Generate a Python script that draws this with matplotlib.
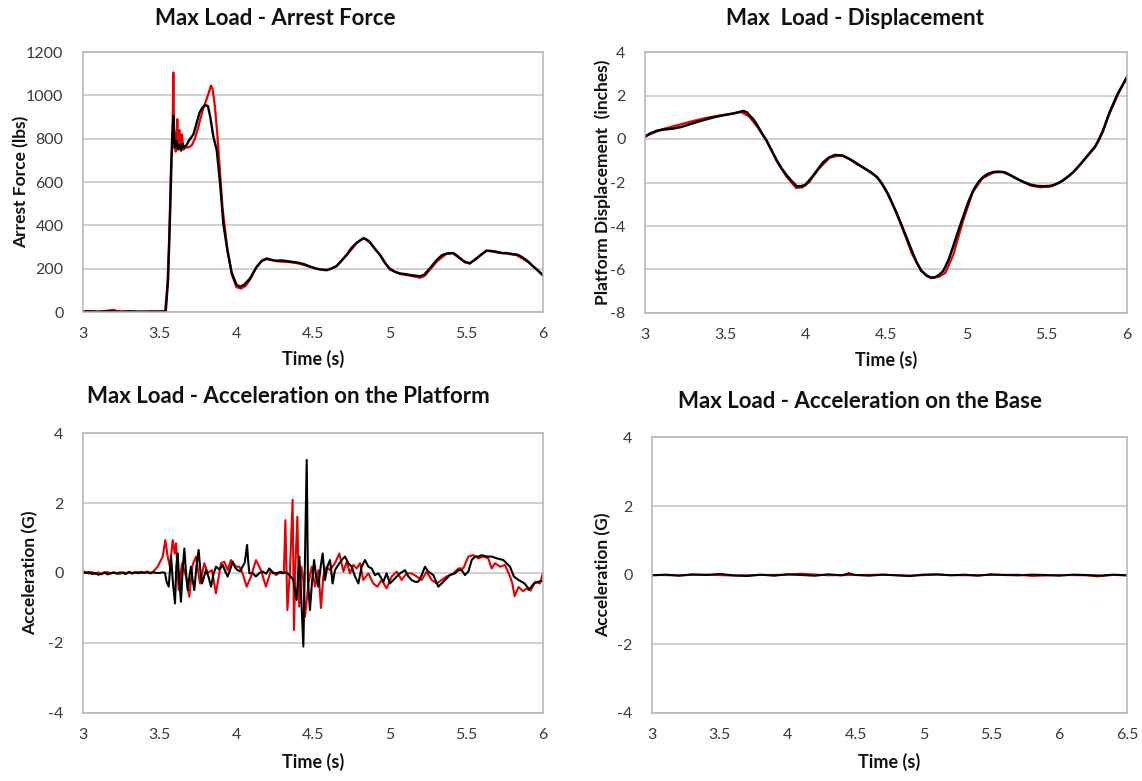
import matplotlib
matplotlib.use('Agg')
import matplotlib.pyplot as plt
from matplotlib.ticker import FuncFormatter

plt.rcParams['font.family'] = ['Lato', 'DejaVu Sans']

# ---- Max Load - Arrest Force ----
force_t_black = [3.00, 3.05, 3.10, 3.15, 3.20, 3.25, 3.30, 3.35, 3.40, 3.45, 3.50, 3.54,
                 3.555, 3.57, 3.58, 3.589, 3.595, 3.60, 3.61, 3.62, 3.63, 3.64, 3.65, 3.66,
                 3.675, 3.69, 3.70, 3.72, 3.74, 3.76, 3.78, 3.80, 3.815, 3.83, 3.85, 3.872,
                 3.894, 3.915, 3.941, 3.970, 4.002, 4.024, 4.05, 4.089, 4.133, 4.165, 4.198,
                 4.23, 4.263, 4.30, 4.35, 4.40, 4.437, 4.48, 4.52, 4.546, 4.589, 4.62, 4.654,
                 4.69, 4.72, 4.75, 4.785, 4.828, 4.85, 4.872, 4.90, 4.937, 4.97, 5.002, 5.035,
                 5.067, 5.10, 5.133, 5.165, 5.198, 5.225, 5.26, 5.307, 5.34, 5.372, 5.415,
                 5.44, 5.459, 5.49, 5.524, 5.555, 5.589, 5.633, 5.66, 5.698, 5.73, 5.76, 5.80,
                 5.83, 5.86, 5.90, 5.94, 5.97, 6.00]
force_black = [3, 2, 1, 3, 2, 1, 3, 2, 1, 2, 2, 3,
               150, 500, 780, 905, 790, 760, 790, 750, 770, 745, 775, 760,
               770, 790, 800, 820, 870, 920, 945, 955, 950, 900, 810, 748,
               594, 409, 286, 180, 125, 117, 125, 155, 209, 235, 245,
               240, 237, 238, 233, 228, 222, 210, 200, 197, 194, 200, 212,
               240, 265, 295, 320, 340, 335, 322, 295, 263, 225, 200, 185,
               178, 175, 171, 168, 165, 172, 200, 240, 262, 270, 272,
               260, 248, 230, 226, 240, 260, 283, 282, 278, 272, 272, 268,
               265, 255, 235, 208, 190, 170]

force_t_red = [3.00, 3.05, 3.10, 3.15, 3.20, 3.22, 3.25, 3.30, 3.35, 3.40, 3.45, 3.50, 3.535,
               3.55, 3.56, 3.565, 3.575, 3.583, 3.589, 3.595, 3.60, 3.605, 3.615, 3.62, 3.63,
               3.635, 3.645, 3.655, 3.67, 3.69, 3.71, 3.73, 3.75, 3.78, 3.81, 3.835, 3.845,
               3.86, 3.875, 3.89, 3.91, 3.94, 3.97, 4.00, 4.03, 4.06, 4.09, 4.13, 4.17, 4.20,
               4.25, 4.30, 4.35, 4.40, 4.45, 4.50, 4.55, 4.59, 4.65, 4.72, 4.785, 4.83, 4.87,
               4.94, 5.00, 5.07, 5.13, 5.20, 5.23, 5.31, 5.37, 5.41, 5.46, 5.52, 5.59, 5.63,
               5.70, 5.76, 5.83, 5.90, 5.96, 6.00]
force_red = [2, 4, 2, 5, 10, 4, 2, 3, 1, 2, 3, 2, 4,
             120, 300, 420, 700, 760, 1105, 760, 830, 740, 890, 760, 840,
             760, 820, 750, 760, 760, 770, 800, 850, 930, 990, 1045, 1030,
             950, 830, 680, 480, 300, 175, 115, 108, 120, 150, 205, 240, 248,
             236, 232, 230, 225, 215, 205, 195, 192, 210, 262, 318, 342, 320,
             262, 196, 175, 168, 158, 168, 235, 268, 272, 246, 222, 262, 284,
             275, 270, 262, 232, 195, 168]

# ---- Max Load - Displacement ----
disp_t_black = [3.000, 3.03, 3.073, 3.12, 3.176, 3.23, 3.28, 3.33, 3.384, 3.44, 3.487, 3.55,
                3.59, 3.612, 3.635, 3.654, 3.675, 3.695, 3.725, 3.757, 3.79, 3.82, 3.85,
                3.882, 3.915, 3.944, 3.97, 3.996, 4.02, 4.048, 4.08, 4.11, 4.145, 4.183,
                4.234, 4.275, 4.317, 4.35, 4.38, 4.41, 4.442, 4.475, 4.504, 4.535, 4.567,
                4.598, 4.629, 4.66, 4.691, 4.72, 4.753, 4.78, 4.805, 4.83, 4.857, 4.89,
                4.919, 4.95, 4.981, 5.012, 5.044, 5.075, 5.106, 5.135, 5.168, 5.20, 5.23,
                5.27, 5.313, 5.355, 5.396, 5.44, 5.479, 5.52, 5.541, 5.575, 5.604, 5.635,
                5.666, 5.708, 5.75, 5.80, 5.85, 5.89, 5.94, 5.97, 6.00]
disp_black = [0.10, 0.25, 0.38, 0.44, 0.48, 0.56, 0.68, 0.80, 0.91, 1.02, 1.09, 1.17,
              1.25, 1.29, 1.22, 1.06, 0.90, 0.68, 0.30, -0.08, -0.55, -0.98, -1.35,
              -1.67, -1.95, -2.17, -2.17, -2.12, -1.92, -1.67, -1.35, -1.06, -0.85, -0.73,
              -0.77, -0.93, -1.14, -1.28, -1.41, -1.55, -1.74, -2.05, -2.42, -2.90, -3.41,
              -3.98, -4.55, -5.12, -5.68, -6.05, -6.29, -6.37, -6.36, -6.25, -6.06, -5.55,
              -4.92, -4.22, -3.56, -2.90, -2.35, -1.98, -1.74, -1.60, -1.52, -1.50, -1.52,
              -1.65, -1.82, -1.97, -2.09, -2.16, -2.17, -2.16, -2.12, -2.02, -1.89, -1.72,
              -1.52, -1.18, -0.80, -0.38, 0.35, 1.20, 2.05, 2.45, 2.85]

disp_t_red = [3.00, 3.10, 3.20, 3.30, 3.40, 3.50, 3.60, 3.65, 3.70, 3.76, 3.82, 3.88, 3.94,
              3.98, 4.02, 4.08, 4.15, 4.22, 4.30, 4.38, 4.45, 4.52, 4.60, 4.66, 4.72, 4.78,
              4.83, 4.87, 4.92, 4.98, 5.04, 5.10, 5.17, 5.24, 5.32, 5.40, 5.46, 5.53, 5.60,
              5.67, 5.75, 5.82, 5.89, 5.95, 6.00]
disp_red = [0.12, 0.43, 0.63, 0.83, 1.00, 1.12, 1.24, 1.02, 0.55, -0.12, -1.02, -1.72, -2.25,
            -2.22, -2.00, -1.38, -0.86, -0.74, -1.02, -1.42, -1.78, -2.62, -4.05, -5.25,
            -6.08, -6.40, -6.33, -6.15, -5.30, -3.75, -2.45, -1.80, -1.54, -1.52, -1.85,
            -2.14, -2.22, -2.18, -1.92, -1.50, -0.82, -0.15, 1.15, 2.15, 2.83]

# ---- Max Load - Acceleration on the Platform ----
plat_t_black = [3.00, 3.02, 3.04, 3.06, 3.08, 3.10, 3.12, 3.14, 3.16, 3.18, 3.20, 3.22, 3.24,
                3.26, 3.28, 3.30, 3.32, 3.34, 3.36, 3.38, 3.40, 3.42, 3.44, 3.46, 3.48, 3.50,
                3.52, 3.535, 3.545, 3.559, 3.574, 3.587, 3.60, 3.609, 3.617, 3.628, 3.639,
                3.65, 3.661, 3.672, 3.683, 3.694, 3.704, 3.715, 3.726, 3.74, 3.754, 3.765,
                3.776, 3.79, 3.802, 3.818, 3.835, 3.85, 3.867, 3.89, 3.911, 3.927, 3.943,
                3.96, 3.976, 3.993, 4.009, 4.025, 4.041, 4.055, 4.07, 4.078, 4.085, 4.105,
                4.128, 4.15, 4.172, 4.195, 4.215, 4.237, 4.259, 4.28, 4.302, 4.325, 4.346,
                4.372, 4.393, 4.411, 4.424, 4.437, 4.448, 4.459, 4.467, 4.48, 4.493, 4.507,
                4.52, 4.535, 4.55, 4.563, 4.578, 4.593, 4.611, 4.628, 4.643, 4.665, 4.687,
                4.709, 4.73, 4.752, 4.774, 4.796, 4.817, 4.839, 4.861, 4.883, 4.904, 4.926,
                4.959, 4.98, 5.002, 5.024, 5.046, 5.067, 5.10, 5.122, 5.143, 5.165, 5.187,
                5.209, 5.23, 5.252, 5.285, 5.317, 5.339, 5.361, 5.393, 5.426, 5.448, 5.47,
                5.491, 5.513, 5.535, 5.557, 5.578, 5.60, 5.633, 5.665, 5.698, 5.741, 5.785,
                5.81, 5.84, 5.88, 5.91, 5.94, 5.97, 6.00]
plat_black = [0.02, 0.00, 0.03, -0.03, 0.00, -0.05, -0.02, 0.02, -0.04, 0.00, 0.01, -0.02, 0.02,
              0.00, -0.03, 0.03, 0.00, 0.02, -0.01, 0.03, 0.00, 0.02, -0.01, 0.02, 0.00, 0.00,
              0.02, 0.00, -0.25, -0.39, 0.47, -0.30, -0.87, 0.20, 0.56, -0.20, -0.82,
              0.10, 0.70, 0.00, -0.49, -0.10, 0.18, -0.20, -0.49, 0.20, 0.66, 0.10,
              -0.30, -0.10, 0.08, -0.10, -0.39, -0.05, 0.18, 0.10, 0.23, 0.05, -0.10,
              0.10, 0.32, 0.15, 0.08, 0.05, 0.18, 0.30, 0.80, 0.30, -0.01, 0.00,
              -0.10, 0.00, 0.04, -0.02, 0.13, 0.00, -0.01, 0.02, -0.01, 0.02, -0.06,
              -0.20, -0.77, 0.47, -0.77, -2.10, 0.47, 3.23, -0.20, -1.06, -0.30, 0.37,
              -0.10, -0.39, 0.18, 0.56, -0.20, 0.18, 0.37, -0.30, 0.08, 0.23, 0.37,
              0.47, 0.28, 0.18, -0.10, -0.30, 0.18, 0.37, 0.18, 0.13, -0.06, -0.01,
              -0.25, -0.01, -0.30, -0.20, -0.10, -0.01, 0.08, -0.10, -0.20, -0.25, -0.25,
              -0.06, 0.18, 0.04, -0.06, -0.39, -0.30, -0.20, -0.06, -0.01, 0.08, 0.08,
              -0.06, 0.04, 0.37, 0.47, 0.47, 0.51, 0.47, 0.47, 0.42, 0.37, 0.18,
              -0.10, -0.20, -0.30, -0.47, -0.30, -0.25, -0.22]

plat_t_red = [3.00, 3.02, 3.04, 3.06, 3.08, 3.10, 3.12, 3.14, 3.16, 3.18, 3.20, 3.22, 3.24,
              3.26, 3.28, 3.30, 3.32, 3.34, 3.36, 3.38, 3.40, 3.42, 3.44, 3.46, 3.487, 3.52,
              3.537, 3.552, 3.567, 3.585, 3.598, 3.607, 3.624, 3.646, 3.672, 3.693, 3.715,
              3.737, 3.763, 3.791, 3.813, 3.841, 3.867, 3.90, 3.922, 3.943, 3.965, 3.998,
              4.02, 4.041, 4.067, 4.096, 4.128, 4.161, 4.193, 4.226, 4.259, 4.291, 4.31,
              4.32, 4.333, 4.35, 4.367, 4.376, 4.385, 4.398, 4.41, 4.424, 4.437, 4.448,
              4.47, 4.492, 4.513, 4.535, 4.552, 4.567, 4.589, 4.61, 4.643, 4.672, 4.698,
              4.72, 4.741, 4.763, 4.785, 4.807, 4.828, 4.861, 4.893, 4.92, 4.948, 4.98,
              5.013, 5.046, 5.078, 5.111, 5.143, 5.176, 5.209, 5.241, 5.274, 5.307, 5.339,
              5.372, 5.415, 5.448, 5.48, 5.513, 5.546, 5.578, 5.611, 5.643, 5.665, 5.687,
              5.72, 5.752, 5.785, 5.80, 5.815, 5.84, 5.87, 5.89, 5.92, 5.95, 5.98, 6.00]
plat_red = [0.05, 0.02, -0.02, 0.03, -0.03, 0.02, -0.04, 0.00, 0.03, -0.02, 0.02, 0.00, -0.03,
            0.02, 0.00, 0.02, -0.02, 0.01, 0.03, 0.00, 0.02, 0.04, 0.00, 0.05, 0.18, 0.47,
            0.94, 0.47, 0.18, 0.94, 0.56, 0.85, -0.49, 0.28, -0.10, -0.68, 0.23,
            0.47, -0.30, 0.28, 0.00, 0.08, -0.58, 0.28, 0.32, 0.08, 0.37, 0.18,
            0.18, -0.01, -0.39, -0.10, 0.37, 0.08, -0.39, 0.08, -0.06, 0.04, 0.00,
            1.51, -1.06, 0.10, 2.09, -1.63, 0.20, 1.61, -0.96, 0.18, -0.20, -1.25,
            -0.30, 0.18, -0.39, 0.08, -1.00, -0.10, 0.18, 0.08, 0.28, 0.56, 0.04,
            0.32, -0.01, 0.23, 0.13, 0.28, -0.20, -0.01, -0.30, -0.39, -0.20, -0.44,
            -0.10, 0.04, -0.20, -0.01, -0.01, -0.10, -0.20, 0.04, -0.20, -0.30, -0.20,
            -0.10, -0.01, 0.13, 0.13, 0.47, 0.51, 0.42, 0.47, 0.42, 0.13, 0.28,
            0.18, 0.23, -0.10, -0.30, -0.66, -0.40, -0.52, -0.45, -0.50, -0.25, -0.30, 0.00]

# ---- Max Load - Acceleration on the Base ----
base_t_black = [3.0, 3.1, 3.2, 3.3, 3.4, 3.5, 3.6, 3.7, 3.8, 3.9, 4.0, 4.1, 4.2, 4.3, 4.4,
                4.45, 4.5, 4.6, 4.7, 4.8, 4.9, 5.0, 5.1, 5.2, 5.3, 5.4, 5.5, 5.6, 5.7, 5.8,
                5.9, 6.0, 6.1, 6.2, 6.3, 6.4, 6.5]
base_black = [-0.01, 0.01, -0.02, 0.02, 0.00, 0.03, -0.01, -0.03, 0.01, -0.02, 0.02, 0.00,
              -0.02, 0.02, -0.01, 0.05, 0.00, -0.02, 0.01, -0.01, -0.03, 0.01, 0.02, -0.01,
              0.01, -0.02, 0.02, 0.00, -0.01, 0.01, 0.00, -0.02, 0.01, 0.00, -0.02, 0.01, -0.01]

base_t_red = [3.0, 3.2, 3.4, 3.6, 3.8, 4.0, 4.1, 4.3, 4.5, 4.7, 4.9, 5.1, 5.3, 5.5, 5.7, 5.8,
              6.0, 6.2, 6.28, 6.4, 6.5]
base_red = [0.00, -0.01, 0.01, -0.02, 0.00, 0.01, 0.04, -0.01, 0.00, 0.01, -0.02, 0.01, -0.01,
            0.00, 0.01, -0.03, 0.00, -0.01, -0.04, 0.00, -0.01]

RED = '#e60000'
GRID = '#c4c4c4'
TXT = '#3a3a3a'

fmt = FuncFormatter(lambda v, p: '%g' % v)


def style(ax, xlim, ylim, yticks, xticks):
    ax.set_xlim(xlim)
    ax.set_ylim(ylim)
    ax.set_yticks(yticks)
    ax.set_xticks(xticks)
    ax.xaxis.set_major_formatter(fmt)
    ax.yaxis.set_major_formatter(fmt)
    ax.yaxis.grid(True, color=GRID, lw=1.1)
    ax.set_axisbelow(True)
    for s in ax.spines.values():
        s.set_color('#b4b4b4')
        s.set_linewidth(1.1)
    ax.tick_params(length=0, labelsize=11.5, labelcolor=TXT)
    ax.tick_params(axis='y', pad=14)
    ax.tick_params(axis='x', pad=11)


def header(ax, title, xpos, ylabel, ylab_x, xlab_y):
    ax.text(xpos, 1.13, title, transform=ax.transAxes, ha='center', va='center',
            fontsize=16, fontweight='bold', color='#111111')
    ax.set_xlabel('Time (s)', fontsize=13, fontweight='bold', color='#111111')
    ax.xaxis.set_label_coords(0.5, xlab_y)
    ax.set_ylabel(ylabel, fontsize=12.5, fontweight='bold', color='#111111')
    ax.yaxis.set_label_coords(ylab_x, 0.5)


W, H = 1142, 781
fig = plt.figure(figsize=(W / 100, H / 100), dpi=100)


def box(left, right, top, bottom):
    return fig.add_axes([left / W, 1 - bottom / H, (right - left) / W, (bottom - top) / H])


xt6 = [3, 3.5, 4, 4.5, 5, 5.5, 6]

ax1 = box(83, 543, 52, 312)
ax1.plot(force_t_red, force_red, color=RED, lw=1.6)
ax1.plot(force_t_black, force_black, color='black', lw=1.7)
style(ax1, (3, 6), (0, 1200), range(0, 1201, 200), xt6)
header(ax1, 'Max Load - Arrest Force', 0.417, 'Arrest Force (lbs)', -0.117, -0.146)

ax2 = box(645, 1127, 52, 313)
ax2.plot(disp_t_red, disp_red, color=RED, lw=1.6)
ax2.plot(disp_t_black, disp_black, color='black', lw=1.8)
style(ax2, (3, 6), (-8, 4), range(-8, 5, 2), xt6)
header(ax2, 'Max  Load - Displacement', 0.436, 'Platform Displacement  (inches)', -0.071, -0.146)

ax3 = box(83, 543, 433, 713)
ax3.plot(plat_t_red, plat_red, color=RED, lw=1.5)
ax3.plot(plat_t_black, plat_black, color='black', lw=1.5)
style(ax3, (3, 6), (-4, 4), range(-4, 5, 2), xt6)
header(ax3, 'Max Load - Acceleration on the Platform', 0.446, 'Acceleration (G)', -0.096, -0.143)

ax4 = box(652, 1127, 437, 713)
ax4.plot(base_t_red, base_red, color=RED, lw=1.4)
ax4.plot(base_t_black, base_black, color='black', lw=1.5)
style(ax4, (3, 6.5), (-4, 4), range(-4, 5, 2), [3, 3.5, 4, 4.5, 5, 5.5, 6, 6.5])
header(ax4, 'Max Load - Acceleration on the Base', 0.438, 'Acceleration (G)', -0.086, -0.145)

fig.savefig('out.png', dpi=100)
